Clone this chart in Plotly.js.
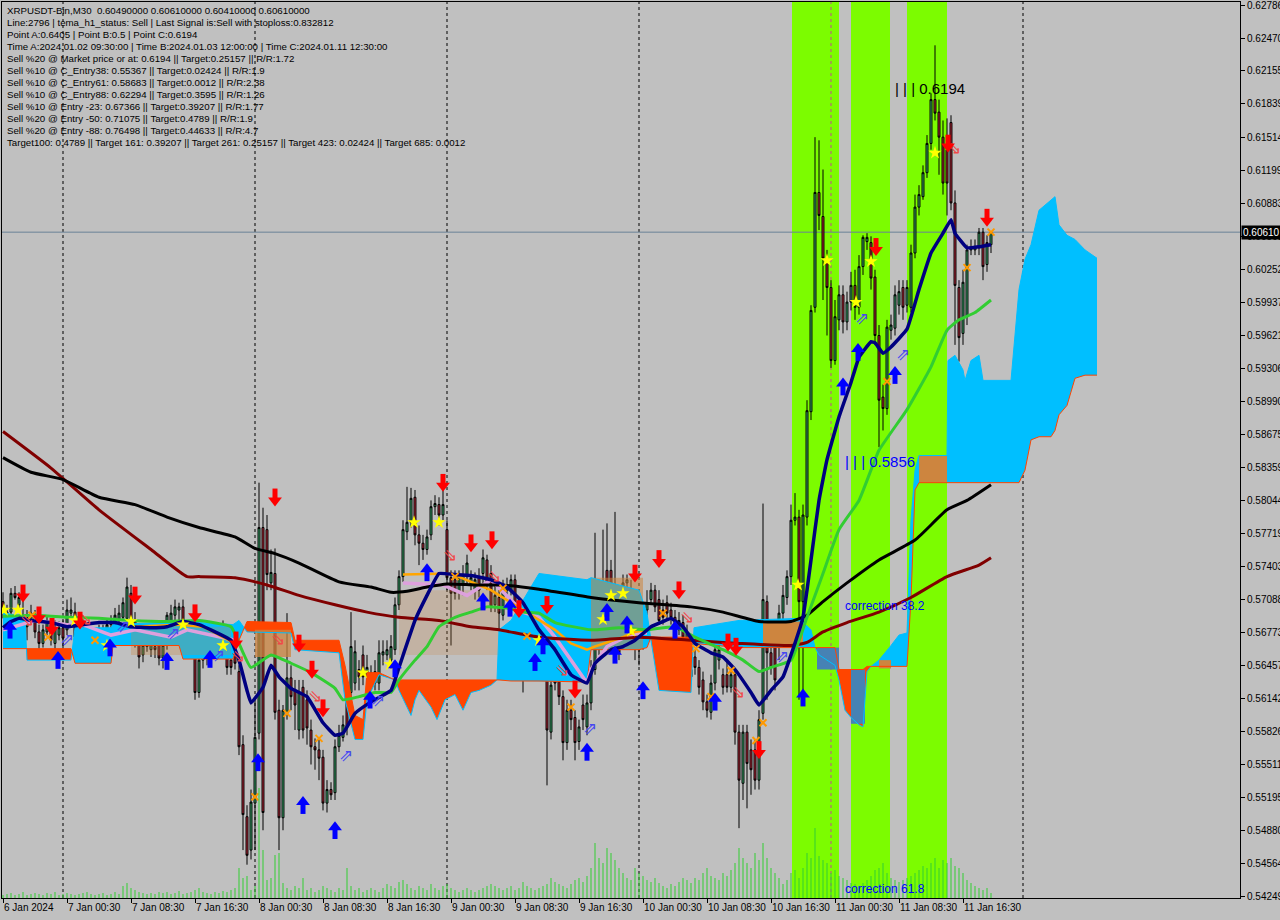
<!DOCTYPE html>
<html><head><meta charset="utf-8">
<script src="https://cdn.plot.ly/plotly-3.0.1.min.js"></script>
<style>html,body{margin:0;padding:0;background:#c0c0c0;}#chart{width:1280px;height:920px;}</style>
</head><body><div id="chart"></div>
<script>
// ---------- candles (bar index 0 = 6 Jan 2024 16:30, M30) ----------
const openP=[
0.5707,0.5697,0.5697,0.5715,0.5704,0.5694,0.5683,0.5689,0.5694,0.5678,
0.5667,0.5678,0.5685,0.5667,0.5675,0.5682,0.5680,0.5696,0.5697,0.5685,
0.5685,0.5675,0.5667,0.5661,0.5665,0.5675,0.5678,0.5685,0.5688,0.5689,
0.5692,0.5691,0.5715,0.5689,0.5665,0.5656,0.5664,0.5661,0.5664,0.5667,
0.5653,0.5665,0.5683,0.5694,0.5699,0.5702,0.5673,0.5678,0.5670,0.5620,
0.5651,0.5656,0.5672,0.5663,0.5667,0.5673,0.5663,0.5651,0.5656,0.5640,
0.5570,0.5501,0.5469,0.5514,0.5581,0.5778,0.5776,0.5725,0.5734,0.5603,
0.5500,0.5600,0.5634,0.5622,0.5584,0.5625,0.5613,0.5584,0.5568,0.5565,
0.5558,0.5514,0.5527,0.5524,0.5568,0.5577,0.5622,0.5620,0.5629,0.5642,
0.5656,0.5635,0.5639,0.5629,0.5629,0.5656,0.5656,0.5651,0.5661,0.5704,
0.5731,0.5774,0.5783,0.5807,0.5771,0.5763,0.5757,0.5771,0.5798,0.5800,
0.5790,0.5776,0.5730,0.5728,0.5716,0.5723,0.5731,0.5723,0.5718,0.5730,
0.5734,0.5747,0.5734,0.5704,0.5711,0.5694,0.5718,0.5718,0.5728,0.5702,
0.5685,0.5670,0.5673,0.5683,0.5673,0.5687,0.5680,0.5582,0.5642,0.5639,
0.5616,0.5572,0.5603,0.5596,0.5573,0.5608,0.5587,0.5610,0.5642,0.5664,
0.5709,0.5737,0.5737,0.5709,0.5687,0.5709,0.5725,0.5718,0.5687,0.5670,
0.5667,0.5699,0.5709,0.5718,0.5709,0.5699,0.5706,0.5699,0.5692,0.5680,
0.5687,0.5639,0.5635,0.5654,0.5644,0.5632,0.5611,0.5601,0.5629,0.5651,
0.5637,0.5637,0.5625,0.5637,0.5582,0.5533,0.5582,0.5565,0.5565,0.5536,
0.5600,0.5707,0.5658,0.5670,0.5670,0.5696,0.5711,0.5731,0.5785,0.5788,
0.5707,0.5788,0.5889,0.5989,0.6099,0.6076,0.6036,0.6008,0.5938,0.5977,
0.6001,0.5975,0.5994,0.6010,0.5989,0.6028,0.6052,0.6051,0.6018,0.5962,
0.5903,0.5892,0.5967,0.5969,0.5991,0.6008,0.5991,0.5989,0.6041,0.6085,
0.6095,0.6118,0.6146,0.6188,0.6176,0.6152,0.6140,0.6166,0.6089,0.6008,
0.5964,0.5980,0.6044,0.6044,0.6046,0.6061,0.6030,0.6049];
const highP=[
0.5716,0.5704,0.5720,0.5722,0.5716,0.5713,0.5699,0.5704,0.5699,0.5685,
0.5685,0.5694,0.5689,0.5689,0.5688,0.5689,0.5709,0.5711,0.5706,0.5691,
0.5694,0.5682,0.5675,0.5675,0.5685,0.5685,0.5691,0.5694,0.5701,0.5704,
0.5711,0.5730,0.5723,0.5697,0.5670,0.5670,0.5678,0.5672,0.5670,0.5675,
0.5670,0.5697,0.5704,0.5709,0.5706,0.5709,0.5680,0.5685,0.5675,0.5656,
0.5670,0.5672,0.5680,0.5675,0.5682,0.5689,0.5670,0.5659,0.5665,0.5646,
0.5579,0.5512,0.5527,0.5613,0.5821,0.5797,0.5790,0.5757,0.5758,0.5613,
0.5608,0.5696,0.5646,0.5632,0.5632,0.5632,0.5622,0.5594,0.5576,0.5575,
0.5565,0.5536,0.5534,0.5575,0.5589,0.5598,0.5632,0.5697,0.5670,0.5651,
0.5665,0.5656,0.5646,0.5651,0.5670,0.5670,0.5670,0.5675,0.5711,0.5737,
0.5785,0.5817,0.5816,0.5814,0.5780,0.5771,0.5776,0.5804,0.5809,0.5807,
0.5825,0.5785,0.5737,0.5737,0.5737,0.5742,0.5752,0.5737,0.5735,0.5739,
0.5757,0.5752,0.5742,0.5723,0.5718,0.5728,0.5730,0.5733,0.5733,0.5709,
0.5689,0.5680,0.5694,0.5689,0.5694,0.5704,0.5685,0.5637,0.5651,0.5646,
0.5622,0.5613,0.5613,0.5603,0.5594,0.5618,0.5618,0.5651,0.5773,0.5728,
0.5776,0.5782,0.5747,0.5793,0.5699,0.5733,0.5733,0.5728,0.5694,0.5680,
0.5694,0.5718,0.5725,0.5723,0.5718,0.5709,0.5713,0.5706,0.5699,0.5697,
0.5694,0.5685,0.5646,0.5661,0.5651,0.5640,0.5618,0.5637,0.5670,0.5670,
0.5643,0.5651,0.5643,0.5643,0.5589,0.5589,0.5589,0.5575,0.5575,0.5603,
0.5801,0.5713,0.5670,0.5685,0.5704,0.5723,0.5737,0.5800,0.5811,0.5795,
0.5800,0.5900,0.5991,0.6152,0.6149,0.6121,0.6044,0.6015,0.5996,0.6010,
0.6010,0.6004,0.6023,0.6025,0.6039,0.6058,0.6060,0.6057,0.6025,0.5972,
0.5915,0.5977,0.5982,0.6010,0.6015,0.6015,0.6015,0.6049,0.6097,0.6106,
0.6125,0.6154,0.6194,0.6240,0.6188,0.6168,0.6170,0.6173,0.6101,0.6015,
0.6025,0.6049,0.6054,0.6054,0.6065,0.6065,0.6058,0.6061];
const lowP=[
0.5691,0.5682,0.5694,0.5709,0.5699,0.5670,0.5670,0.5685,0.5672,0.5661,
0.5663,0.5675,0.5665,0.5661,0.5670,0.5651,0.5675,0.5691,0.5668,0.5665,
0.5680,0.5656,0.5653,0.5656,0.5661,0.5670,0.5672,0.5680,0.5682,0.5685,
0.5689,0.5689,0.5685,0.5663,0.5643,0.5649,0.5659,0.5654,0.5653,0.5646,
0.5643,0.5661,0.5678,0.5689,0.5685,0.5668,0.5661,0.5663,0.5613,0.5615,
0.5643,0.5646,0.5656,0.5656,0.5661,0.5665,0.5637,0.5637,0.5642,0.5560,
0.5469,0.5455,0.5460,0.5469,0.5575,0.5488,0.5718,0.5718,0.5594,0.5469,
0.5488,0.5594,0.5603,0.5584,0.5575,0.5576,0.5570,0.5551,0.5546,0.5536,
0.5507,0.5505,0.5517,0.5517,0.5563,0.5573,0.5579,0.5613,0.5622,0.5622,
0.5627,0.5627,0.5622,0.5622,0.5622,0.5646,0.5651,0.5643,0.5656,0.5699,
0.5726,0.5766,0.5778,0.5761,0.5742,0.5747,0.5752,0.5766,0.5790,0.5780,
0.5785,0.5718,0.5665,0.5709,0.5709,0.5713,0.5723,0.5718,0.5709,0.5711,
0.5723,0.5718,0.5697,0.5697,0.5680,0.5689,0.5711,0.5713,0.5697,0.5675,
0.5620,0.5651,0.5665,0.5663,0.5665,0.5656,0.5531,0.5575,0.5622,0.5608,
0.5555,0.5565,0.5584,0.5555,0.5565,0.5584,0.5579,0.5603,0.5637,0.5656,
0.5704,0.5699,0.5670,0.5675,0.5651,0.5689,0.5718,0.5670,0.5651,0.5646,
0.5661,0.5694,0.5704,0.5697,0.5685,0.5685,0.5689,0.5685,0.5675,0.5675,
0.5661,0.5634,0.5630,0.5637,0.5618,0.5603,0.5596,0.5594,0.5622,0.5642,
0.5618,0.5620,0.5620,0.5570,0.5490,0.5517,0.5509,0.5522,0.5527,0.5527,
0.5594,0.5613,0.5637,0.5622,0.5651,0.5689,0.5704,0.5723,0.5780,0.5613,
0.5613,0.5780,0.5881,0.5984,0.6063,0.5996,0.5962,0.5931,0.5934,0.5967,
0.5964,0.5967,0.5986,0.5977,0.5982,0.6020,0.6044,0.6006,0.5953,0.5855,
0.5871,0.5886,0.5958,0.5962,0.5982,0.5977,0.5984,0.5984,0.6036,0.6077,
0.6092,0.6113,0.6140,0.6168,0.6116,0.6097,0.6077,0.6082,0.5953,0.5937,
0.5953,0.5972,0.6039,0.6039,0.6039,0.6015,0.6023,0.6041];
const closeP=[
0.5697,0.5688,0.5715,0.5711,0.5711,0.5675,0.5692,0.5696,0.5678,0.5667,
0.5680,0.5688,0.5670,0.5682,0.5682,0.5672,0.5699,0.5699,0.5673,0.5673,
0.5688,0.5665,0.5661,0.5668,0.5678,0.5678,0.5685,0.5688,0.5694,0.5696,
0.5706,0.5721,0.5689,0.5667,0.5654,0.5665,0.5670,0.5667,0.5661,0.5653,
0.5665,0.5694,0.5696,0.5702,0.5702,0.5673,0.5667,0.5670,0.5620,0.5651,
0.5658,0.5664,0.5663,0.5668,0.5673,0.5680,0.5644,0.5644,0.5648,0.5568,
0.5503,0.5464,0.5515,0.5577,0.5778,0.5505,0.5733,0.5735,0.5601,0.5500,
0.5603,0.5634,0.5616,0.5608,0.5620,0.5584,0.5586,0.5568,0.5565,0.5557,
0.5514,0.5527,0.5522,0.5568,0.5579,0.5589,0.5587,0.5664,0.5659,0.5635,
0.5635,0.5644,0.5629,0.5640,0.5658,0.5659,0.5661,0.5664,0.5704,0.5731,
0.5776,0.5783,0.5806,0.5771,0.5763,0.5757,0.5769,0.5798,0.5801,0.5790,
0.5800,0.5730,0.5715,0.5715,0.5731,0.5733,0.5744,0.5730,0.5728,0.5718,
0.5749,0.5725,0.5702,0.5713,0.5696,0.5721,0.5723,0.5728,0.5702,0.5685,
0.5664,0.5661,0.5687,0.5670,0.5687,0.5664,0.5584,0.5627,0.5629,0.5616,
0.5572,0.5603,0.5594,0.5572,0.5587,0.5594,0.5610,0.5642,0.5664,0.5721,
0.5718,0.5709,0.5721,0.5683,0.5658,0.5725,0.5728,0.5683,0.5664,0.5661,
0.5685,0.5706,0.5718,0.5702,0.5689,0.5692,0.5696,0.5692,0.5683,0.5689,
0.5673,0.5677,0.5642,0.5644,0.5625,0.5611,0.5603,0.5629,0.5661,0.5661,
0.5625,0.5625,0.5637,0.5582,0.5536,0.5582,0.5552,0.5546,0.5536,0.5594,
0.5709,0.5658,0.5644,0.5632,0.5696,0.5713,0.5731,0.5785,0.5788,0.5707,
0.5790,0.5890,0.5986,0.6099,0.6077,0.6036,0.6008,0.5938,0.5980,0.6001,
0.5975,0.5994,0.6010,0.5989,0.6028,0.6056,0.6056,0.6017,0.5962,0.5900,
0.5892,0.5970,0.5972,0.6001,0.6004,0.5989,0.6008,0.6041,0.6085,0.6097,
0.6118,0.6146,0.6188,0.6175,0.6152,0.6108,0.6108,0.6089,0.6010,0.5960,
0.6013,0.6044,0.6046,0.6047,0.6061,0.6028,0.6051,0.6061];
const volume=[
3,4,5,3,4,6,3,4,5,4,3,5,4,6,3,4,5,4,3,4,5,6,4,3,4,5,3,4,6,4,
12,15,10,8,6,5,4,5,4,6,
5,6,4,5,7,4,5,6,8,10,6,5,4,6,5,7,6,8,
10,30,20,22,8,12,110,48,18,20,43,45,15,10,8,12,10,20,
8,10,6,8,12,10,8,6,10,8,30,12,8,10,6,8,10,8,6,10,14,12,10,16,
18,14,10,8,12,10,8,14,10,8,12,14,10,8,6,8,10,8,6,8,10,12,14,
12,10,8,10,12,8,10,16,12,10,8,10,12,14,20,16,14,12,10,14,18,20,16,22,30,
55,40,35,50,45,38,30,25,20,18,30,25,22,18,16,20,15,12,10,14,12,16,20,
18,15,20,18,25,30,22,20,18,25,22,28,35,50,40,35,30,45,38,
55,40,30,25,20,14,18,25,28,20,30,45,40,70,42,38,35,25,28,22,20,
18,15,14,12,15,18,22,28,30,35,25,20,18,16,18,20,22,25,28,32,
30,35,40,30,38,35,40,32,30,25,18,15,12,10,8,10,5];

// ---------- moving averages ----------
const blackIdx=[0,7,15,24,33,41,49,58,63,68,74,84,92,97,101,106,111,118,124,134,147,159,172,180,189,197,201,205,211,219,228,236,241,247];
const blackMA=[0.5845,0.5831,0.5824,0.5807,0.5800,0.5788,0.5778,0.5769,0.5758,0.5753,0.5744,0.5726,0.5721,0.5716,0.5717,0.5721,0.5724,0.5723,0.5723,0.5719,0.5711,0.5706,0.5702,0.5697,0.5688,0.5688,0.5694,0.5707,0.5725,0.5747,0.5766,0.5795,0.5804,0.5819];
const maroonIdx=[0,12,24,37,46,49,58,66,74,83,91,99,109,117,124,134,147,159,172,184,197,201,205,211,219,227,236,244,247];
const maroonMA=[0.5870,0.5835,0.5795,0.5757,0.5731,0.5731,0.5730,0.5723,0.5713,0.5704,0.5697,0.5692,0.5689,0.5683,0.5680,0.5673,0.5670,0.5673,0.5670,0.5667,0.5665,0.5668,0.5678,0.5687,0.5697,0.5711,0.5731,0.5742,0.5749];
const navyIdx=[0,2,4,7,12,16,20,24,28,32,37,41,45,49,53,57,59,61,62,65,67,69,72,76,80,83,85,88,92,97,99,103,106,109,113,117,122,126,130,134,138,142,146,148,152,155,158,162,165,167,170,173,177,180,183,187,189,192,195,197,200,201,202,204,206,209,212,214,217,218,220,222,226,229,232,235,237,238,241,244,247];
const navyMA=[0.5682,0.5688,0.5691,0.5689,0.5687,0.5683,0.5685,0.5687,0.5687,0.5683,0.5682,0.5683,0.5688,0.5685,0.5678,0.5670,0.5651,0.5622,0.5610,0.5625,0.5646,0.5635,0.5624,0.5616,0.5591,0.5579,0.5581,0.5600,0.5611,0.5622,0.5644,0.5689,0.5713,0.5734,0.5733,0.5732,0.5728,0.5721,0.5706,0.5680,0.5661,0.5637,0.5629,0.5648,0.5661,0.5664,0.5670,0.5683,0.5688,0.5691,0.5683,0.5667,0.5658,0.5654,0.5642,0.5620,0.5608,0.5622,0.5635,0.5656,0.5692,0.5718,0.5747,0.5804,0.5843,0.5884,0.5917,0.5941,0.5956,0.5955,0.5945,0.5951,0.5968,0.6006,0.6041,0.6060,0.6073,0.6060,0.6046,0.6047,0.6049];
const greenIdx=[0,8,16,24,32,41,49,57,59,62,67,72,77,83,85,89,93,97,99,103,106,109,113,117,121,126,130,134,138,147,154,161,168,173,180,185,189,192,197,201,205,209,214,219,226,232,236,239,243,247];
const greenMA=[0.5693,0.5694,0.5692,0.5691,0.5689,0.5688,0.5689,0.5683,0.5667,0.5644,0.5656,0.5648,0.5639,0.5624,0.5613,0.5616,0.5620,0.5620,0.5632,0.5651,0.5664,0.5683,0.5692,0.5697,0.5702,0.5701,0.5697,0.5696,0.5687,0.5680,0.5682,0.5680,0.5683,0.5673,0.5661,0.5651,0.5640,0.5644,0.5651,0.5692,0.5734,0.5776,0.5804,0.5852,0.5891,0.5932,0.5967,0.5977,0.5984,0.5996];
const orangeIdx=[32,44,50,58,null,100,112,122,130,138,142,146,148,151,155,158,161];
const orangeLn=[0.5683,0.5685,0.5683,0.5667,null,0.5733,0.5734,0.5718,0.5699,0.5680,0.5667,0.5661,0.5664,0.5668,0.5673,0.5678,0.5680];
const lilacIdx=[0,8,16,20,27,33,42,46,58,null,100,110,116,122,130,134,138,142,146,147,151,155,159,161];
const lilacLn=[0.5680,0.5689,0.5685,0.5685,0.5675,0.5680,0.5673,0.5680,0.5670,null,0.5725,0.5723,0.5713,0.5728,0.5697,0.5692,0.5673,0.5651,0.5629,0.5642,0.5664,0.5672,0.5677,0.5677];

// ---------- cloud ----------
const cloudIdx=[0,5.5,6,17,18,27,27.5,44,45,57.5,59,61,72,73,84,85.5,88,90,91,94,98,99,102,103,104,107,108.5,110.5,113,115,117,119,122,123.5,124,127,134,146,147,159,161,162,164,172,172.75,184,199,202,203,204,208,209,210.5,212,214,215,216,217,219,222,223,224,226,227,228,229,236,236.25,238,240,240.5,242,244,245,252,254,255.5,257,259,262,263,264,266,268,270.5,273.5];
const spanA=[0.5697,0.5691,0.5651,0.5651,0.5682,0.5682,0.5685,0.5688,0.5688,0.5685,0.5689,0.5678,0.5677,0.5661,0.5658,0.5613,0.5575,0.5575,0.5613,0.5637,0.5632,0.5622,0.5598,0.5613,0.5622,0.5606,0.5594,0.5613,0.5618,0.5603,0.5620,0.5622,0.5627,0.5632,0.5680,0.5689,0.5734,0.5728,0.5730,0.5718,0.5696,0.5670,0.5622,0.5620,0.5682,0.5689,0.5691,0.5680,0.5663,0.5656,0.5646,0.5632,0.5603,0.5596,0.5589,0.5587,0.5640,0.5645,0.5651,0.5665,0.5670,0.5675,0.5677,0.5785,0.5833,0.5847,0.5847,0.5938,0.5943,0.5929,0.5919,0.5938,0.5943,0.5919,0.5919,0.6006,0.6035,0.6049,0.6082,0.6092,0.6095,0.6068,0.6058,0.6054,0.6044,0.6036];
const spanB=[0.5662,0.5662,0.5662,0.5662,0.5648,0.5648,0.5665,0.5665,0.5652,0.5652,0.5670,0.5688,0.5687,0.5670,0.5670,0.5646,0.5598,0.5594,0.5639,0.5639,
0.5632,0.5632,0.5632,0.5632,0.5632,0.5632,0.5632,0.5632,0.5632,0.5632,0.5632,0.5632,0.5632,0.5632,0.5632,
0.5631,0.5631,0.5630,0.5661,0.5661,0.5663,0.5673,0.5673,0.5673,0.5667,
0.5663,0.5663,0.5663,0.5663,0.5663,0.5663,
0.5642,0.5642,0.5642,0.5642,0.5642,
0.5645,0.5645,0.5645,0.5645,0.5645,0.5645,0.5645,
0.5709,0.5814,
0.5821,0.5821,0.5821,0.5821,0.5821,0.5821,0.5821,0.5821,0.5821,0.5821,0.5821,
0.5833,0.5862,0.5865,0.5865,0.5871,0.5886,0.5895,0.5921,0.5924,0.5924];
const brownStart=[32,63,99,147,190,219,229], brownEnd=[57,72,124,160,200,222,236];
const brownTop=[0.5683,0.5680,0.5718,0.5730,0.5688,0.5651,0.5847], brownBot=[0.5656,0.5654,0.5656,0.5661,0.5665,0.5643,0.5821];
const steelStart=[203.5,212], steelEnd=[209,215.5], steelTop=[0.5663,0.5642], steelBot=[0.5642,0.5590];

// ---------- signals ----------
const redDownIdx=[5,9,12.25,19.25,33,48,58.25,68,74,77.25,80,110,117,122.25,129,136,143,158,164,169,181.25,183.25,189,218.25,236.25,246];
const redDownVal=[0.5715,0.5694,0.5683,0.5689,0.5713,0.5696,0.5670,0.5807,0.5667,0.5642,0.5605,0.5821,0.5763,0.5766,0.5700,0.5704,0.5623,0.5734,0.5748,0.5718,0.5668,0.5664,0.5565,0.6047,0.6146,0.6075];
const blueUpIdx=[1.75,13.75,26.75,41,51.75,63.75,75,83,91.75,98,106,120,126.75,133,135,146,151,153,156,160,168,178,200,210,213.75,223];
const blueUpVal=[0.5680,0.5651,0.5663,0.5650,0.5652,0.5553,0.5512,0.5488,0.5613,0.5643,0.5735,0.5707,0.5701,0.5649,0.5665,0.5563,0.5697,0.5656,0.5685,0.5622,0.5680,0.5611,0.5615,0.5913,0.5946,0.5924];
const starIdx=[0.25,3.75,18,26,32,45,55,90,96.75,102.75,109,134,150,152,155,157,198.75,206,213.25,217,233];
const starVal=[0.5699,0.5699,0.5689,0.5665,0.5688,0.5685,0.5665,0.5639,0.5647,0.5783,0.5783,0.5670,0.5690,0.5713,0.5715,0.5679,0.5723,0.6034,0.5994,0.6033,0.6137];
const crossIdx=[7.25,11.25,23,63,71,79,113,125,131,142,165,173.25,177,182,188.25,190,221,241,247];
const crossVal=[0.5694,0.5673,0.5670,0.5520,0.5600,0.5576,0.5731,0.5720,0.5674,0.5606,0.5696,0.5662,0.5616,0.5641,0.5574,0.5591,0.5918,0.6027,0.6061];
const redHollowIdx=[6,20.5,58.75,68.75,78,111.75,122.75,139.75,171,183.75,237.75];
const redHollowVal=[0.5688,0.5689,0.5653,0.5670,0.5615,0.5750,0.5730,0.5640,0.5691,0.5619,0.6140];
const blueHollowIdx=[16,30,42.5,53.75,85.75,93.75,146.75,194.75,214.75,225];
const blueHollowVal=[0.5670,0.5682,0.5675,0.5654,0.5558,0.5611,0.5584,0.5653,0.5977,0.5943];

const bandStart=[197.25,212,226], bandEnd=[209,221.75,236];
const daySep=[15,63,111,159,255], daySepPink=[207];
const lastPrice=0.6061;
const tickIdx=[0,16,32,48,64,80,96,112,128,144,160,176,192,208,224,240];
const tickText=['6 Jan 2024','7 Jan 00:30','7 Jan 08:30','7 Jan 16:30','8 Jan 00:30','8 Jan 08:30','8 Jan 16:30','9 Jan 00:30','9 Jan 08:30','9 Jan 16:30','10 Jan 00:30','10 Jan 08:30','10 Jan 16:30','11 Jan 00:30','11 Jan 08:30','11 Jan 16:30'];
const priceTicks=[0.62786,0.62470,0.62155,0.61839,0.61514,0.61199,0.60883,0.60568,0.60252,0.59937,0.59621,0.59306,0.58990,0.58675,0.58359,0.58044,0.57719,0.57403,0.57088,0.56773,0.56457,0.56142,0.55826,0.55511,0.55195,0.54880,0.54564,0.54249];
const infoLines=[
"XRPUSDT-Bin,M30  0.60490000 0.60610000 0.60410000 0.60610000",
"Line:2796 | tema_h1_status: Sell | Last Signal is:Sell with stoploss:0.832812",
"Point A:0.6405 | Point B:0.5 | Point C:0.6194",
"Time A:2024.01.02 09:30:00 | Time B:2024.01.03 12:00:00 | Time C:2024.01.11 12:30:00",
"Sell %20 @ Market price or at: 0.6194 || Target:0.25157 || R/R:1.72",
"Sell %10 @ C_Entry38: 0.55367 || Target:0.02424 || R/R:1.9",
"Sell %10 @ C_Entry61: 0.58683 || Target:0.0012 || R/R:2.38",
"Sell %10 @ C_Entry88: 0.62294 || Target:0.3595 || R/R:1.26",
"Sell %10 @ Entry -23: 0.67366 || Target:0.39207 || R/R:1.77",
"Sell %20 @ Entry -50: 0.71075 || Target:0.4789 || R/R:1.9",
"Sell %20 @ Entry -88: 0.76498 || Target:0.44633 || R/R:4.7",
"Target100: 0.4789 || Target 161: 0.39207 || Target 261: 0.25157 || Target 423: 0.02424 || Target 685: 0.0012"];

// ---------- build ----------
const idx=closeP.map((_,i)=>i);
const traces=[];
traces.push({type:'bar',x:idx,y:volume,yaxis:'y2',width:0.25,marker:{color:'#32cd32',line:{width:0}},hoverinfo:'skip'});

function cloudTraces(){
  const segs=[];
  for(let k=0;k<cloudIdx.length-1;k++){
    const xa=cloudIdx[k],xb=cloudIdx[k+1],a0=spanA[k],a1=spanA[k+1],b0=spanB[k],b1=spanB[k+1];
    const d0=a0-b0,d1=a1-b1;
    if(d0*d1<0){
      const t=d0/(d0-d1),xc=xa+t*(xb-xa),yc=a0+t*(a1-a0);
      segs.push({up:d0>0,p:[[xa,a0,b0],[xc,yc,yc]]});
      segs.push({up:d1>0,p:[[xc,yc,yc],[xb,a1,b1]]});
    } else segs.push({up:(d0+d1)>=0,p:[[xa,a0,b0],[xb,a1,b1]]});
  }
  const runs=[];
  segs.forEach(s=>{const l=runs[runs.length-1]; if(l&&l.up===s.up) l.p.push(s.p[1]); else runs.push({up:s.up,p:[s.p[0],s.p[1]]});});
  return runs.map(r=>({type:'scatter',mode:'lines',hoverinfo:'skip',
    x:r.p.map(q=>q[0]).concat(r.p.map(q=>q[0]).reverse()),
    y:r.p.map(q=>q[1]).concat(r.p.map(q=>q[2]).reverse()),
    fill:'toself',fillcolor:r.up?'#00bfff':'#ff4500',line:{width:0}}));
}
cloudTraces().forEach(t=>traces.push(t));
function rectTrace(x0,x1,y0,y1,col,op){
  return {type:'scatter',mode:'lines',x:[x0,x1,x1,x0,x0],y:[y0,y0,y1,y1,y0],fill:'toself',fillcolor:col,opacity:op,line:{width:0},hoverinfo:'skip'};
}
const brownOp=[0.3,0.75,0.22,0.55,1,1,1];
brownStart.forEach((s,k)=>traces.push(rectTrace(s,brownEnd[k],brownBot[k],brownTop[k],'#cd853f',brownOp[k])));
steelStart.forEach((s,k)=>traces.push(rectTrace(s,steelEnd[k],steelBot[k],steelTop[k],'#4682b4',1)));
traces.push({type:'scatter',mode:'lines',x:cloudIdx,y:spanA,line:{color:'#00bfff',width:1},hoverinfo:'skip'});
traces.push({type:'scatter',mode:'lines',x:cloudIdx,y:spanB,line:{color:'#ff4500',width:1},hoverinfo:'skip'});

traces.push({type:'candlestick',x:idx,open:openP,high:highP,low:lowP,close:closeP,
  increasing:{line:{color:'#000',width:1},fillcolor:'#3cb371'},
  decreasing:{line:{color:'#000',width:1},fillcolor:'#c0283a'},whiskerwidth:0,hoverinfo:'skip'});

traces.push({type:'scatter',mode:'lines',x:lilacIdx,y:lilacLn,connectgaps:false,line:{color:'#dda0dd',width:3.5},hoverinfo:'skip'});
traces.push({type:'scatter',mode:'lines',x:orangeIdx,y:orangeLn,connectgaps:false,line:{color:'#ffa500',width:2.5},hoverinfo:'skip'});
traces.push({type:'scatter',mode:'lines',x:maroonIdx,y:maroonMA,line:{color:'#800000',width:3,shape:'spline',smoothing:0.5},hoverinfo:'skip'});
traces.push({type:'scatter',mode:'lines',x:blackIdx,y:blackMA,line:{color:'#000000',width:3,shape:'spline',smoothing:0.5},hoverinfo:'skip'});
traces.push({type:'scatter',mode:'lines',x:greenIdx,y:greenMA,line:{color:'#32cd32',width:3,shape:'spline',smoothing:0.4},hoverinfo:'skip'});
traces.push({type:'scatter',mode:'lines',x:navyIdx,y:navyMA,line:{color:'#000080',width:3.5,shape:'spline',smoothing:0.3},hoverinfo:'skip'});

function textMarks(xs,ys,ch,col,size){
  return {type:'scatter',mode:'text',x:xs,y:ys,text:xs.map(()=>ch),textposition:'middle center',
    textfont:{family:'DejaVu Sans',size:size,color:col},cliponaxis:false,hoverinfo:'skip'};
}
// thick arrows: shaft + head (offset ~3px in price units)
const ARW=0.00030;
function arrowTraces(xs,ys,dir,col){
  const s=dir==='down'?1:-1;
  return [
    {type:'scatter',mode:'markers',x:xs,y:ys.map(v=>v+s*ARW),marker:{symbol:'line-ns',size:8,line:{color:col,width:5}},hoverinfo:'skip',cliponaxis:false},
    {type:'scatter',mode:'markers',x:xs,y:ys.map(v=>v-s*ARW),marker:{symbol:dir==='down'?'triangle-down':'triangle-up',size:12,color:col,line:{width:0}},hoverinfo:'skip',cliponaxis:false}
  ];
}
traces.push({type:'scatter',mode:'markers',x:starIdx,y:starVal,marker:{symbol:'star',size:10,color:'#ffff00',line:{width:0}},hoverinfo:'skip'});
traces.push({type:'scatter',mode:'markers',x:crossIdx,y:crossVal,marker:{symbol:'x-thin',size:7,color:'#ffa500',line:{color:'#ff9900',width:2}},hoverinfo:'skip'});
traces.push(textMarks(redHollowIdx,redHollowVal,'\u21D8','#f04848',17));
traces.push(textMarks(blueHollowIdx,blueHollowVal,'\u21D7','#4848f0',17));
arrowTraces(redDownIdx,redDownVal,'down','#ff0000').forEach(t=>traces.push(t));
arrowTraces(blueUpIdx,blueUpVal,'up','#0000ff').forEach(t=>traces.push(t));

const shapes=[];
bandStart.forEach((s,k)=>shapes.push({type:'rect',xref:'x',yref:'paper',x0:s,x1:bandEnd[k],y0:0,y1:1,fillcolor:'#7cfc00',line:{width:0},layer:'below'}));
daySep.forEach(d=>shapes.push({type:'line',xref:'x',yref:'paper',x0:d,x1:d,y0:0,y1:1,line:{color:'#000',width:1,dash:'3px,3px'},layer:'below'}));
daySepPink.forEach(d=>shapes.push({type:'line',xref:'x',yref:'paper',x0:d,x1:d,y0:0,y1:1,line:{color:'#c0508a',width:1,dash:'3px,3px'},layer:'below'}));
shapes.push({type:'line',xref:'paper',yref:'y',x0:0,x1:1,y0:lastPrice,y1:lastPrice,line:{color:'#6a8296',width:1},layer:'below'});

const ann=[];
const F='Liberation Sans';
infoLines.forEach((t,k)=>ann.push({xref:'paper',yref:'paper',x:3/1238,y:(898-(10.5+12*k))/896,xanchor:'left',yanchor:'middle',text:t,showarrow:false,font:{family:F,size:9.7,color:'#000'}}));
tickIdx.forEach((v,k)=>ann.push({xref:'x',yref:'paper',x:v,y:-10/896,xanchor:'left',yanchor:'middle',xshift:-1,text:tickText[k],showarrow:false,font:{family:F,size:10,color:'#000'}}));
ann.push({xref:'paper',yref:'y',x:1,y:lastPrice,xanchor:'left',yanchor:'middle',xshift:1,text:'0.60610',showarrow:false,bgcolor:'#000',borderpad:1,font:{family:F,size:10,color:'#fff'}});
ann.push({xref:'x',yref:'y',x:222.5,y:0.6199,xanchor:'left',yanchor:'middle',text:'| | | 0.6194',showarrow:false,font:{family:F,size:15,color:'#000'}});
ann.push({xref:'x',yref:'y',x:210,y:0.5841,xanchor:'left',yanchor:'middle',text:'| | | 0.5856',showarrow:false,font:{family:F,size:15,color:'#0000ff'}});
ann.push({xref:'x',yref:'y',x:210,y:0.5703,xanchor:'left',yanchor:'middle',text:'correction 38.2',showarrow:false,font:{family:F,size:12,color:'#0000ff'}});
ann.push({xref:'x',yref:'y',x:210,y:0.5432,xanchor:'left',yanchor:'middle',text:'correction 61.8',showarrow:false,font:{family:F,size:12,color:'#0000ff'}});

const layout={width:1280,height:920,margin:{l:2,r:40,t:2,b:22,pad:0},
  paper_bgcolor:'#c0c0c0',plot_bgcolor:'#c0c0c0',showlegend:false,hovermode:false,
  xaxis:{range:[-0.25,309.25],rangeslider:{visible:false},showgrid:false,zeroline:false,showline:true,mirror:true,linecolor:'#000',linewidth:1,
    tickmode:'array',tickvals:tickIdx,ticktext:tickIdx.map(()=>''),ticks:'outside',ticklen:4,tickcolor:'#000',fixedrange:true},
  yaxis:{range:[0.54231,0.62815],side:'right',tickmode:'array',tickvals:priceTicks,ticktext:priceTicks.map(v=>v.toFixed(5)),
    ticks:'outside',ticklen:4,tickcolor:'#000',showgrid:false,zeroline:false,showline:true,mirror:true,linecolor:'#000',linewidth:1,
    ticklabeloverflow:'allow',tickfont:{family:F,size:10,color:'#000'},fixedrange:true},
  yaxis2:{overlaying:'y',range:[0,896],visible:false,fixedrange:true},
  shapes:shapes,annotations:ann};
Plotly.newPlot('chart',traces,layout,{displayModeBar:false,staticPlot:true});
</script></body></html>
